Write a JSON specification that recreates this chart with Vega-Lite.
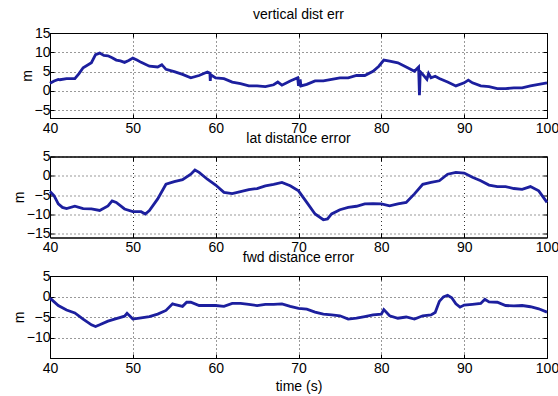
{
  "$schema": "https://vega.github.io/schema/vega-lite/v6.json",
  "padding": {"left": 11, "top": 7, "right": 5, "bottom": 5},
  "background": "white",
  "bounds": "flush",
  "spacing": 38.5,
  "datasets": {
    "vert": [
      {"t":40,"v":2.0},{"t":40.5,"v":2.6},{"t":41,"v":3.0},{"t":41.2,"v":2.9},{"t":42,"v":3.2},{"t":43,"v":3.2},{"t":43.5,"v":4.5},{"t":44,"v":6.0},{"t":45,"v":7.3},{"t":45.5,"v":9.4},{"t":46,"v":9.8},{"t":46.5,"v":9.2},{"t":47,"v":9.1},{"t":47.5,"v":8.6},{"t":48,"v":8.0},{"t":48.5,"v":7.8},{"t":49,"v":7.4},{"t":49.5,"v":7.9},{"t":50,"v":8.5},{"t":50.5,"v":8.0},{"t":51,"v":7.4},{"t":52,"v":6.4},{"t":53,"v":6.2},{"t":53.5,"v":6.8},{"t":54,"v":5.6},{"t":55,"v":5.0},{"t":56,"v":4.3},{"t":57,"v":3.4},{"t":58,"v":4.0},{"t":59,"v":4.9},{"t":59.3,"v":4.6},{"t":59.35,"v":2.6},{"t":59.4,"v":4.2},{"t":60,"v":3.4},{"t":61,"v":3.2},{"t":62,"v":2.3},{"t":63,"v":1.9},{"t":64,"v":1.3},{"t":65,"v":1.3},{"t":66,"v":1.1},{"t":67,"v":1.6},{"t":67.5,"v":2.3},{"t":68,"v":1.5},{"t":69,"v":2.6},{"t":69.9,"v":3.4},{"t":70.0,"v":1.3},{"t":70.2,"v":3.0},{"t":70.3,"v":1.3},{"t":71,"v":1.7},{"t":72,"v":2.6},{"t":73,"v":2.6},{"t":74,"v":3.0},{"t":75,"v":3.4},{"t":76,"v":3.4},{"t":77,"v":4.0},{"t":78,"v":4.0},{"t":79,"v":5.1},{"t":79.7,"v":6.4},{"t":80.3,"v":8.0},{"t":81,"v":7.7},{"t":82,"v":7.3},{"t":83,"v":6.2},{"t":84,"v":5.1},{"t":84.5,"v":6.2},{"t":84.6,"v":-1.1},{"t":84.7,"v":5.0},{"t":85,"v":4.3},{"t":85.5,"v":3.0},{"t":85.7,"v":4.5},{"t":86,"v":3.4},{"t":86.5,"v":3.8},{"t":87,"v":3.2},{"t":88,"v":2.3},{"t":89,"v":1.3},{"t":90,"v":2.1},{"t":90.5,"v":2.8},{"t":91,"v":2.1},{"t":92,"v":1.3},{"t":93,"v":1.1},{"t":94,"v":0.6},{"t":95,"v":0.6},{"t":96,"v":0.8},{"t":97,"v":0.8},{"t":98,"v":1.3},{"t":99,"v":1.7},{"t":100,"v":2.1}
    ],
    "lat": [
      {"t":40,"v":-4.1},{"t":40.5,"v":-5.2},{"t":41,"v":-7.3},{"t":41.5,"v":-8.2},{"t":42,"v":-8.5},{"t":43,"v":-7.9},{"t":44,"v":-8.5},{"t":45,"v":-8.6},{"t":46,"v":-9.0},{"t":47,"v":-7.8},{"t":47.5,"v":-6.5},{"t":48,"v":-6.9},{"t":49,"v":-8.6},{"t":50,"v":-9.3},{"t":51,"v":-9.3},{"t":51.5,"v":-9.9},{"t":52,"v":-9.0},{"t":53,"v":-6.0},{"t":54,"v":-2.2},{"t":55,"v":-1.5},{"t":56,"v":-1.0},{"t":57,"v":0.4},{"t":57.5,"v":1.5},{"t":58,"v":0.9},{"t":59,"v":-0.9},{"t":60,"v":-2.4},{"t":61,"v":-4.3},{"t":62,"v":-4.6},{"t":63,"v":-4.1},{"t":64,"v":-3.6},{"t":65,"v":-3.3},{"t":66,"v":-2.6},{"t":67,"v":-2.2},{"t":68,"v":-1.7},{"t":69,"v":-2.6},{"t":70,"v":-3.9},{"t":71,"v":-6.9},{"t":72,"v":-9.9},{"t":73,"v":-11.4},{"t":73.5,"v":-11.2},{"t":74,"v":-9.9},{"t":75,"v":-8.8},{"t":76,"v":-8.2},{"t":77,"v":-7.9},{"t":78,"v":-7.3},{"t":79,"v":-7.2},{"t":80,"v":-7.3},{"t":81,"v":-7.8},{"t":82,"v":-7.3},{"t":83,"v":-6.9},{"t":84,"v":-4.7},{"t":85,"v":-2.2},{"t":86,"v":-1.7},{"t":87,"v":-1.3},{"t":88,"v":0.4},{"t":89,"v":0.9},{"t":90,"v":0.7},{"t":91,"v":-0.4},{"t":92,"v":-1.3},{"t":93,"v":-2.4},{"t":94,"v":-2.8},{"t":95,"v":-2.8},{"t":96,"v":-3.3},{"t":97,"v":-3.5},{"t":98,"v":-2.8},{"t":99,"v":-3.9},{"t":100,"v":-6.9}
    ],
    "fwd": [
      {"t":40,"v":-0.4},{"t":41,"v":-2.2},{"t":42,"v":-3.3},{"t":43,"v":-4.0},{"t":44,"v":-5.5},{"t":45,"v":-6.9},{"t":45.5,"v":-7.3},{"t":46,"v":-6.9},{"t":47,"v":-6.0},{"t":48,"v":-5.4},{"t":49,"v":-4.8},{"t":49.3,"v":-4.1},{"t":50,"v":-5.5},{"t":51,"v":-5.2},{"t":52,"v":-4.9},{"t":53,"v":-4.3},{"t":54,"v":-3.4},{"t":54.8,"v":-1.8},{"t":55,"v":-1.9},{"t":56,"v":-2.4},{"t":56.5,"v":-1.4},{"t":57,"v":-1.4},{"t":58,"v":-2.2},{"t":59,"v":-2.2},{"t":60,"v":-2.2},{"t":61,"v":-2.4},{"t":62,"v":-1.7},{"t":63,"v":-1.7},{"t":64,"v":-1.9},{"t":65,"v":-2.2},{"t":66,"v":-1.9},{"t":67,"v":-1.9},{"t":68,"v":-1.8},{"t":69,"v":-2.4},{"t":70,"v":-2.9},{"t":71,"v":-3.1},{"t":72,"v":-3.8},{"t":73,"v":-4.3},{"t":74,"v":-4.5},{"t":75,"v":-4.7},{"t":76,"v":-5.5},{"t":77,"v":-5.3},{"t":78,"v":-4.9},{"t":79,"v":-4.5},{"t":80,"v":-4.3},{"t":80.3,"v":-3.2},{"t":81,"v":-4.7},{"t":82,"v":-5.3},{"t":83,"v":-5.0},{"t":84,"v":-5.5},{"t":85,"v":-4.7},{"t":86,"v":-4.5},{"t":86.5,"v":-3.9},{"t":87,"v":-1.2},{"t":87.5,"v":-0.1},{"t":88,"v":0.3},{"t":88.5,"v":-0.3},{"t":89,"v":-1.8},{"t":89.5,"v":-2.6},{"t":90,"v":-2.1},{"t":91,"v":-1.9},{"t":92,"v":-1.7},{"t":92.5,"v":-0.7},{"t":93,"v":-1.3},{"t":94,"v":-1.4},{"t":95,"v":-2.2},{"t":96,"v":-2.3},{"t":97,"v":-2.2},{"t":98,"v":-2.5},{"t":99,"v":-3.0},{"t":100,"v":-3.8}
    ]
  },
  "config": {
    "font": "Liberation Sans",
    "view": {"stroke": "#000", "strokeWidth": 1},
    "axis": {
      "domainColor": "#000", "tickColor": "#000", "labelColor": "#000",
      "labelFontSize": 14, "labelFont": "Liberation Sans",
      "gridColor": "#000", "gridDash": [1, 3], "gridOpacity": 0.8,
      "tickSize": -4, "labelFlush": false,
      "titleFontWeight": "normal", "titleFontSize": 14, "titleColor": "#000", "titleFont": "Liberation Sans"
    },
    "axisX": {"labelPadding": 7, "titlePadding": 4},
    "axisY": {"labelPadding": 4, "titlePadding": 0},
    "title": {"fontSize": 14, "fontWeight": "normal", "color": "#000", "font": "Liberation Sans", "offset": 4}
  },
  "vconcat": [
    {
      "width": 497, "height": 85,
      "title": "vertical dist err",
      "data": {"name": "vert"},
      "resolve": {"axis": {"x": "independent", "y": "independent"}},
      "layer": [
        {
          "mark": {"type": "line", "color": "#1c1f9e", "strokeWidth": 2.8},
          "encoding": {
            "x": {"field": "t", "type": "quantitative", "scale": {"domain": [40, 100], "nice": false, "zero": false}, "axis": {"values": [40, 50, 60, 70, 80, 90, 100], "title": null}},
            "y": {"field": "v", "type": "quantitative", "scale": {"domain": [-7, 15], "nice": false, "zero": false}, "axis": {"values": [-5, 0, 5, 10, 15], "title": "m"}}
          }
        },
        {
          "mark": {"type": "line", "strokeOpacity": 0},
          "encoding": {
            "x": {"field": "t", "type": "quantitative", "axis": {"orient": "top", "values": [40, 50, 60, 70, 80, 90, 100], "labels": false, "grid": false, "title": null}},
            "y": {"field": "v", "type": "quantitative", "axis": {"orient": "right", "values": [-5, 0, 5, 10, 15], "labels": false, "grid": false, "title": null}}
          }
        }
      ]
    },
    {
      "width": 497, "height": 81,
      "title": "lat distance error",
      "data": {"name": "lat"},
      "resolve": {"axis": {"x": "independent", "y": "independent"}},
      "layer": [
        {
          "mark": {"type": "line", "color": "#1c1f9e", "strokeWidth": 2.8},
          "encoding": {
            "x": {"field": "t", "type": "quantitative", "scale": {"domain": [40, 100], "nice": false, "zero": false}, "axis": {"values": [40, 50, 60, 70, 80, 90, 100], "title": null}},
            "y": {"field": "v", "type": "quantitative", "scale": {"domain": [-16, 5], "nice": false, "zero": false}, "axis": {"values": [-15, -10, -5, 0, 5], "title": "m"}}
          }
        },
        {
          "mark": {"type": "line", "strokeOpacity": 0},
          "encoding": {
            "x": {"field": "t", "type": "quantitative", "axis": {"orient": "top", "values": [40, 50, 60, 70, 80, 90, 100], "labels": false, "grid": false, "title": null}},
            "y": {"field": "v", "type": "quantitative", "axis": {"orient": "right", "values": [-15, -10, -5, 0, 5], "labels": false, "grid": false, "title": null}}
          }
        }
      ]
    },
    {
      "width": 497, "height": 82,
      "title": "fwd distance error",
      "data": {"name": "fwd"},
      "resolve": {"axis": {"x": "independent", "y": "independent"}},
      "layer": [
        {
          "mark": {"type": "line", "color": "#1c1f9e", "strokeWidth": 2.8},
          "encoding": {
            "x": {"field": "t", "type": "quantitative", "scale": {"domain": [40, 100], "nice": false, "zero": false}, "axis": {"values": [40, 50, 60, 70, 80, 90, 100], "title": "time (s)"}},
            "y": {"field": "v", "type": "quantitative", "scale": {"domain": [-15, 5], "nice": false, "zero": false}, "axis": {"values": [-10, -5, 0, 5], "title": "m"}}
          }
        },
        {
          "mark": {"type": "line", "strokeOpacity": 0},
          "encoding": {
            "x": {"field": "t", "type": "quantitative", "axis": {"orient": "top", "values": [40, 50, 60, 70, 80, 90, 100], "labels": false, "grid": false, "title": null}},
            "y": {"field": "v", "type": "quantitative", "axis": {"orient": "right", "values": [-10, -5, 0, 5], "labels": false, "grid": false, "title": null}}
          }
        }
      ]
    }
  ]
}
